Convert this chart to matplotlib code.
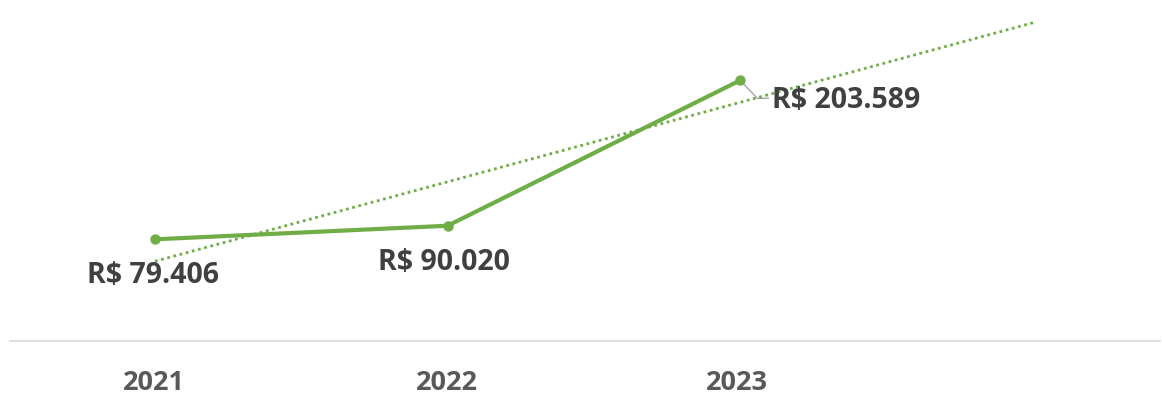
import numpy as np
import matplotlib
matplotlib.use("Agg")
import matplotlib.pyplot as plt

years = ["2021", "2022", "2023"]
values = [79.406, 90.020, 203.589]  # thousands of R$
value_labels = ["R$ 79.406", "R$ 90.020", "R$ 203.589"]

GREEN = "#70AD47"
TEXT = "#404040"
AXIS_TEXT = "#595959"
FONT = ["Open Sans", "DejaVu Sans"]

W, H = 1162, 397
fig = plt.figure(figsize=(W / 100, H / 100), dpi=100)
ax = fig.add_axes([10 / W, (H - 341) / H, 1150 / W, 341 / H])

x = np.arange(len(values))
ax.plot(x, values, color=GREEN, lw=3, marker="o", ms=6.5, zorder=3,
        solid_capstyle="round")

# linear trend, extended one period forward
coef = np.polyfit(x + 1, values, 1)
xt = np.arange(len(values) + 1)
ax.plot(xt, np.polyval(coef, xt + 1), color=GREEN, lw=2, ls=(0, (1, 1.3)),
        zorder=2)

ax.set_xlim(-0.495, 3.434)
ax.set_ylim(0, 341 / 1.2804)
for s in ["top", "right", "left"]:
    ax.spines[s].set_visible(False)
ax.spines["bottom"].set_color("#D9D9D9")
ax.spines["bottom"].set_linewidth(1.2)
ax.set_yticks([])
ax.set_xticks([])

# category labels under the axis
for xi, yr, dx in zip(x, years, [-1, -1, -3]):
    ax.annotate(yr, (xi, 0), xytext=(dx, -49), textcoords="offset pixels",
                ha="center", va="baseline", fontsize=19.5, fontweight="bold",
                color=AXIS_TEXT, family=FONT, annotation_clip=False)

# value labels (baseline offsets in pixels)
offsets = [(-1.5, -44, "center"), (-3.5, -44, "center"), (32, -28, "left")]
for xi, v, lab, (dx, dy, ha) in zip(x, values, value_labels, offsets):
    ax.annotate(lab, (xi, v), xytext=(dx, dy), textcoords="offset pixels",
                ha=ha, va="baseline", fontsize=20.5, fontweight="bold",
                color=TEXT, family=FONT)

# leader line for the last label
lead = np.array([(0, 0), (17, -18), (28, -18)])
fig.canvas.draw()
start = ax.transData.transform((x[-1], values[-1]))
pts = start + lead
ax.plot(pts[:, 0], pts[:, 1], transform=None, color="#A6A6A6", lw=1,
        zorder=1)

fig.savefig("out.png", dpi=100)
